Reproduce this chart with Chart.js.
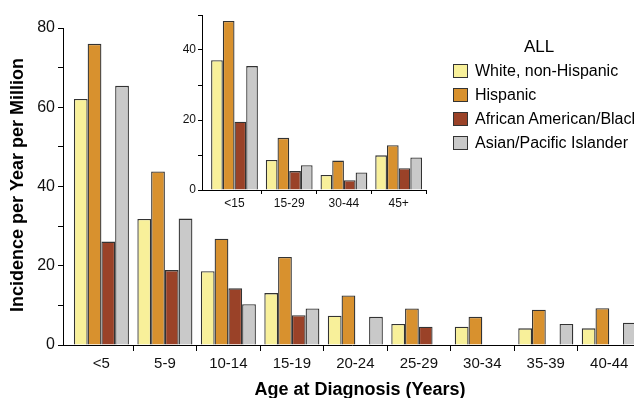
<!DOCTYPE html>
<html>
<head>
<meta charset="utf-8">
<script src="https://cdn.jsdelivr.net/npm/chart.js@4"></script>
<style>
  html, body { margin: 0; padding: 0; background: #fff; overflow: hidden; }
  #wrap { position: relative; width: 634px; height: 398px; overflow: hidden; }
  #mainChart { position: absolute; left: 0; top: 0; }
  #insetChart { position: absolute; left: 160px; top: 0; }
  #legend { position: absolute; left: 453px; top: 35px; font: 16px "Liberation Sans", Arial, sans-serif; color: #000; white-space: nowrap; }
  #legend .ttl { font-size: 17px; text-align: center; width: 172px; height: 24px; line-height: 24px; }
  #legend .row { height: 24px; line-height: 24px; }
  #legend .box { display: inline-block; width: 13px; height: 12px; border: 1px solid #333; vertical-align: -2px; margin-right: 7px; }
</style>
</head>
<body>
<div id="wrap">
  <canvas id="mainChart" width="641" height="398"></canvas>
  <canvas id="insetChart" width="270" height="215"></canvas>
  <div id="legend"></div>
</div>
<script>
const seriesNames = ['White, non-Hispanic', 'Hispanic', 'African American/Black', 'Asian/Pacific Islander'];
const seriesColors = ['#F8F09A', '#D8912E', '#9A4228', '#C9C9C9'];

const ageGroups = ['<5', '5-9', '10-14', '15-19', '20-24', '25-29', '30-34', '35-39', '40-44'];
const white = [62.1, 31.8, 18.6, 13.1, 7.4, 5.3, 4.6, 4.2, 4.2];
const hispanic = [76.0, 43.8, 26.8, 22.2, 12.5, 9.2, 7.1, 8.9, 9.3];
const black = [26.1, 18.9, 14.3, 7.5, null, 4.6, null, null, null];
const asian = [65.4, 31.9, 10.3, 9.2, 7.1, null, null, 5.3, 5.6];

const insetGroups = ['<15', '15-29', '30-44', '45+'];
const insetWhite = [37.1, 8.6, 4.3, 9.9];
const insetHispanic = [48.3, 14.9, 8.4, 12.8];
const insetBlack = [19.5, 5.4, 2.8, 6.2];
const insetAsian = [35.4, 7.1, 5.0, 9.3];

const legendTitle = 'ALL';
const xTitle = 'Age at Diagnosis (Years)';
const yTitle = 'Incidence per Year per Million';

Chart.defaults.font.family = '"Liberation Sans", Arial, sans-serif';
Chart.defaults.color = '#111';

function makeSets(lists) {
  return lists.map((vals, i) => ({
    label: seriesNames[i],
    data: vals,
    backgroundColor: seriesColors[i],
    borderColor: '#333',
    borderWidth: 1.3
  }));
}

// leave a small gap between the y axis and the first group
function gapAtStart(gap) {
  return s => { s._startValue -= gap; s._valueRange += gap; };
}

const titlePlugin = {
  id: 'titles',
  afterDraw(chart) {
    const ctx = chart.ctx;
    ctx.save();
    ctx.font = 'bold 18px "Liberation Sans", Arial, sans-serif';
    ctx.fillStyle = '#000';
    ctx.textAlign = 'center';
    ctx.textBaseline = 'alphabetic';
    ctx.fillText(xTitle, 360, 395);
    ctx.textBaseline = 'middle';
    ctx.translate(18, 185);
    ctx.rotate(-Math.PI / 2);
    ctx.fillText(yTitle, 0, 0);
    ctx.restore();
  }
};

new Chart(document.getElementById('mainChart'), {
  type: 'bar',
  data: {
    labels: ageGroups,
    datasets: makeSets([white, hispanic, black, asian])
  },
  options: {
    responsive: false,
    animation: false,
    categoryPercentage: 0.867,
    barPercentage: 1.0,
    layout: { padding: { top: 28, right: 0, left: 0, bottom: 0 } },
    plugins: { legend: { display: false }, tooltip: { enabled: false } },
    scales: {
      x: {
        afterBuildTicks: gapAtStart(0.105),
        afterFit: s => { s.height = 53; },
        border: { color: '#000', width: 1 },
        grid: {
          drawOnChartArea: false,
          tickLength: 6,
          color: c => c.index === 0 ? 'rgba(0,0,0,0)' : '#000'
        },
        ticks: { font: { size: 15 }, color: '#111', padding: 4, maxRotation: 0 }
      },
      y: {
        min: 0,
        max: 80,
        afterFit: s => { s.width = 63; },
        border: { color: '#000', width: 1 },
        grid: { drawOnChartArea: false, tickLength: 5, color: '#000' },
        ticks: {
          stepSize: 10,
          font: { size: 16 },
          color: '#111',
          padding: 3,
          callback: v => v % 20 === 0 ? v : ''
        }
      }
    }
  },
  plugins: [titlePlugin]
});

new Chart(document.getElementById('insetChart'), {
  type: 'bar',
  data: {
    labels: insetGroups,
    datasets: makeSets([insetWhite, insetHispanic, insetBlack, insetAsian])
  },
  options: {
    responsive: false,
    animation: false,
    categoryPercentage: 0.855,
    barPercentage: 1.0,
    layout: { padding: { top: 15, right: 4, left: 0, bottom: 0 } },
    plugins: { legend: { display: false }, tooltip: { enabled: false } },
    scales: {
      x: {
        afterBuildTicks: gapAtStart(0.094),
        afterFit: s => { s.height = 25; },
        border: { color: '#000', width: 1 },
        grid: {
          drawOnChartArea: false,
          tickLength: 4,
          color: c => c.index === 0 ? 'rgba(0,0,0,0)' : '#000'
        },
        ticks: { font: { size: 12 }, color: '#111', padding: 2, maxRotation: 0 }
      },
      y: {
        min: 0,
        max: 50,
        afterFit: s => { s.width = 42; },
        border: { color: '#000', width: 1 },
        grid: { drawOnChartArea: false, tickLength: 4, color: '#000' },
        ticks: {
          stepSize: 10,
          font: { size: 12 },
          color: '#111',
          padding: 2,
          callback: v => v % 20 === 0 ? v : ''
        }
      }
    }
  }
});

const legend = document.getElementById('legend');
let html = '<div class="ttl">' + legendTitle + '</div>';
seriesNames.forEach((name, i) => {
  html += '<div class="row"><span class="box" style="background:' + seriesColors[i] + '"></span>' + name + '</div>';
});
legend.innerHTML = html;
</script>
</body>
</html>
